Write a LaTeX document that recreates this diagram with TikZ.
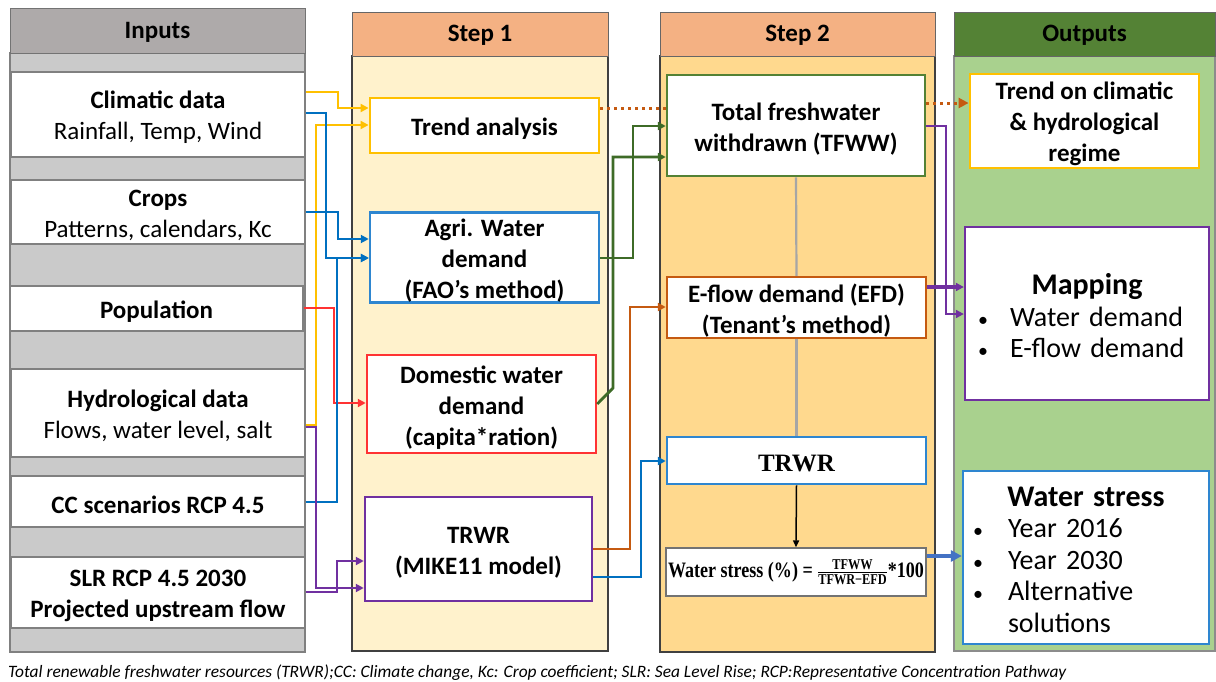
\documentclass[tikz,border=0pt]{standalone}
\usepackage{fontspec}
\setmainfont{Carlito}
\newfontfamily\timesf{Liberation Serif}
\usetikzlibrary{arrows.meta}
\definecolor{inhead}{HTML}{AEAAAA}
\definecolor{inbody}{HTML}{CACACA}
\definecolor{stephead}{HTML}{F4B183}
\definecolor{sonebody}{HTML}{FFF2CC}
\definecolor{stwobody}{HTML}{FFD98E}
\definecolor{outhead}{HTML}{548235}
\definecolor{outbody}{HTML}{A9D18E}
\definecolor{cyel}{HTML}{FFC000}
\definecolor{cblue}{HTML}{0070C0}
\definecolor{cboxblue}{HTML}{2E86D0}
\definecolor{cred}{HTML}{FF3333}
\definecolor{cpur}{HTML}{7030A0}
\definecolor{cgrn}{HTML}{3E6B27}
\definecolor{cgrnbox}{HTML}{548235}
\definecolor{corg}{HTML}{C55A11}
\definecolor{clblue}{HTML}{4472C4}
\newcommand\fs[2]{\fontsize{#1}{#2}\selectfont}
\newcommand\bul{{\fs{20}{20}•}}
\newcommand\up{\rule{0pt}{24pt}}
\begin{document}
\begin{tikzpicture}[x=1pt,y=-1pt,
  inbox/.style={draw=black!50,line width=1.3pt,fill=white,inner sep=0pt,align=center,font=\fs{25}{31}},
  sbox/.style={fill=white,inner sep=0pt,align=center,font=\fs{25}{31}\bfseries,line width=2.5pt},
  head/.style={inner sep=0pt,font=\fs{25}{30}\bfseries,line width=1pt,draw=black!60,text height=19pt,text depth=4pt},
  colbg/.style={inner sep=0pt,line width=1.3pt,draw=black!75},
  conn/.style={line width=2.8pt,-{Triangle[length=8pt,width=8pt]}},
  dotconn/.style={line width=3pt,corg,dash pattern=on 3pt off 4pt},
]
\useasboundingbox[fill=white] (0,0) rectangle (1216,681);

% ---------- columns
\node[colbg,fill=inbody,draw=black!50,minimum width=295pt,minimum height=599pt] (inbg) at (157.5,352.5) {};
\node[head,fill=inhead,draw=black!55,minimum width=295pt,minimum height=45pt] (inh) at (157.5,30.5) {Inputs};
\node[colbg,fill=sonebody,minimum width=256pt,minimum height=595pt] (sonebg) at (480,353.5) {};
\node[head,fill=stephead,minimum width=256pt,minimum height=44pt] (soneh) at (480,34) {Step 1};
\node[colbg,fill=stwobody,minimum width=275pt,minimum height=596pt] (stwobg) at (797.5,354) {};
\node[head,fill=stephead,minimum width=275pt,minimum height=44pt] (stwoh) at (797.5,34) {Step 2};
\node[colbg,fill=outbody,draw=black!45,minimum width=261pt,minimum height=595pt] (outbg) at (1084.5,353.5) {};
\node[head,fill=outhead,draw=black!60,minimum width=261pt,minimum height=44pt] (outh) at (1084.5,34) {Outputs};

% ---------- inputs
\node[inbox,minimum width=294pt,minimum height=85pt] (clim) at (158,114.5) {\up\textbf{Climatic data}\\Rainfall, Temp, Wind};
\node[inbox,minimum width=294pt,minimum height=64pt] (crops) at (158,212) {\up\textbf{Crops}\\Patterns, calendars, Kc};
\node[inbox,minimum width=293pt,minimum height=45pt] (pop) at (156.5,308.5) {\up\textbf{Population}};
\node[inbox,minimum width=294pt,minimum height=88pt] (hydro) at (158,413) {\up\textbf{Hydrological data}\\Flows, water level, salt};
\node[inbox,minimum width=294pt,minimum height=51pt] (cc) at (158,501.5) {\up\textbf{CC scenarios RCP 4.5}};
\node[inbox,minimum width=294pt,minimum height=71pt] (slr) at (158,592.5) {\up\textbf{SLR RCP 4.5 2030}\\\textbf{Projected upstream flow}};

% ---------- step 1
\node[sbox,draw=cyel,line width=2.8pt,minimum width=229pt,minimum height=55pt] (trend) at (484.5,125.5) {\up Trend analysis};
\node[sbox,draw=cboxblue,minimum width=229pt,minimum height=89pt] (agri) at (484.5,257.5) {\up Agri. Water\\demand\\(FAO’s method)};
\node[sbox,draw=cred,minimum width=229pt,minimum height=98pt] (dom) at (481.5,404) {\up Domestic water\\demand\\(capita*ration)};
\node[sbox,draw=cpur,minimum width=227pt,minimum height=104pt] (trwra) at (478.5,549) {\up TRWR\\(MIKE11 model)};

% ---------- step 2
\node[sbox,draw=cgrnbox,minimum width=258pt,minimum height=101pt] (tfww) at (796,125.5) {\up Total freshwater\\withdrawn (TFWW)};
\node[sbox,draw=corg,minimum width=259pt,minimum height=61pt] (efd) at (796.5,307.5) {\up E-flow demand (EFD)\\(Tenant’s method)};
\node[sbox,draw=cboxblue,minimum width=259pt,minimum height=47pt,font=\timesf\fs{25}{28}\bfseries] (trwrb) at (796.5,460.5) {\rule{0pt}{22pt}TRWR};
\node[sbox,draw=black!55,line width=1.3pt,minimum width=260pt,minimum height=48pt,font=\timesf\fs{22}{24}\bfseries] (ws) at (796,572)
  {\scalebox{0.82}[1]{Water stress (\%) = $\frac{\hbox{\fs{15}{16}\bfseries TFWW}}{\hbox{\fs{15}{16}\bfseries TFWR−EFD}}$*100}};

% ---------- outputs
\node[sbox,draw=cyel,line width=2.8pt,minimum width=229pt,minimum height=94pt] (otrend) at (1084.5,121) {\up Trend on climatic\\\& hydrological\\regime};
\node[fill=white,draw=cpur,line width=2.3pt,inner sep=0pt,text width=244pt,align=left,minimum height=173pt,font=\fs{28}{31.5}] (map) at (1087,313.5)
  {\makebox[244pt][c]{\fs{30}{32}\bfseries\rule{0pt}{26pt}Mapping}\\
   \hspace*{13pt}\makebox[32pt][l]{\bul}Water demand\\
   \hspace*{13pt}\makebox[32pt][l]{\bul}E-flow demand};
\node[fill=white,draw=cboxblue,line width=2.3pt,inner sep=0pt,text width=246pt,align=left,minimum height=173pt,font=\fs{28}{31.5}] (ows) at (1086,557.5)
  {\makebox[246pt][c]{\fs{30}{32}\bfseries\rule{0pt}{24pt}Water stress}\\
   \hspace*{10pt}\makebox[35pt][l]{\bul}Year 2016\\
   \hspace*{10pt}\makebox[35pt][l]{\bul}Year 2030\\
   \hspace*{10pt}\makebox[35pt][l]{\bul}Alternative\\
   \hspace*{45pt}solutions};

% ---------- connectors inputs -> step 1
\draw[conn,cyel] (clim.east |- 0,92) -- (338,92) -- (338,108) -- (trend.west |- 0,108);
\draw[conn,cyel] (hydro.east |- 0,425) -- (316,425) -- (316,125) -- (trend.west |- 0,125);
\draw[conn,cblue] (clim.east |- 0,113) -- (326,113) -- (326,258) -- (agri.west |- 0,258);
\draw[conn,cblue] (crops.east |- 0,212) -- (338,212) -- (338,239) -- (agri.west |- 0,239);
\draw[conn,cred,line width=2.2pt] (pop.east |- 0,308) -- (334,308) -- (334,403) -- (dom.west |- 0,403);
\draw[conn,cblue] (cc.east |- 0,502) -- (337,502) -- (337,258) -- (agri.west |- 0,258);
\draw[conn,cpur] (hydro.east |- 0,427) -- (316,427) -- (316,588) -- (trwra.west |- 0,588);
\draw[conn,cpur] (slr.east |- 0,592) -- (337,592) -- (337,561) -- (trwra.west |- 0,561);

% ---------- step 1 -> step 2
\draw[dotconn] (trend.east |- 0,108) -- (tfww.west |- 0,108);
\draw[conn,cgrn] (agri.east |- 0,258) -- (633,258) -- (633,126) -- (tfww.west |- 0,126);
\draw[conn,cgrn] (dom.east |- 0,404) -- (613,388) -- (613,157) -- (tfww.west |- 0,157);
\draw[conn,corg] (trwra.east |- 0,549) -- (630,549) -- (630,307) -- (efd.west |- 0,307);
\draw[conn,cblue] (trwra.east |- 0,577) -- (641,577) -- (641,461) -- (trwrb.west |- 0,461);

% ---------- step 2 internal
\draw[line width=2.2pt,black!35] (tfww.south) -- (efd.north);
\draw[line width=2.2pt,black!35] (efd.south) -- (trwrb.north);
\draw[line width=1.5pt,-{Triangle[length=7pt,width=6pt]}] (trwrb.south) -- (ws.north);

% ---------- step 2 -> outputs
\draw[dotconn,-{Triangle[length=10pt,width=10pt]}] (tfww.east |- 0,103) -- (otrend.west |- 0,103);
\draw[conn,cpur,line width=2.4pt] (tfww.east |- 0,126) -- (946,126) -- (946,314) -- (map.west |- 0,314);
\draw[conn,cpur,line width=3.4pt] (efd.east |- 0,287) -- (map.west |- 0,287);
\draw[conn,clblue,line width=4.5pt,-{Triangle[length=11pt,width=11pt]}] (ws.east |- 0,556) -- (ows.west |- 0,556);

% ---------- footnote
\node[anchor=west,inner sep=0pt,font=\fs{17.4}{20}\itshape] (note) at (8,673)
  {Total renewable freshwater resources (TRWR);CC: Climate change, Kc: Crop coefficient; SLR: Sea Level Rise; RCP:Representative Concentration Pathway};
\end{tikzpicture}
\end{document}
